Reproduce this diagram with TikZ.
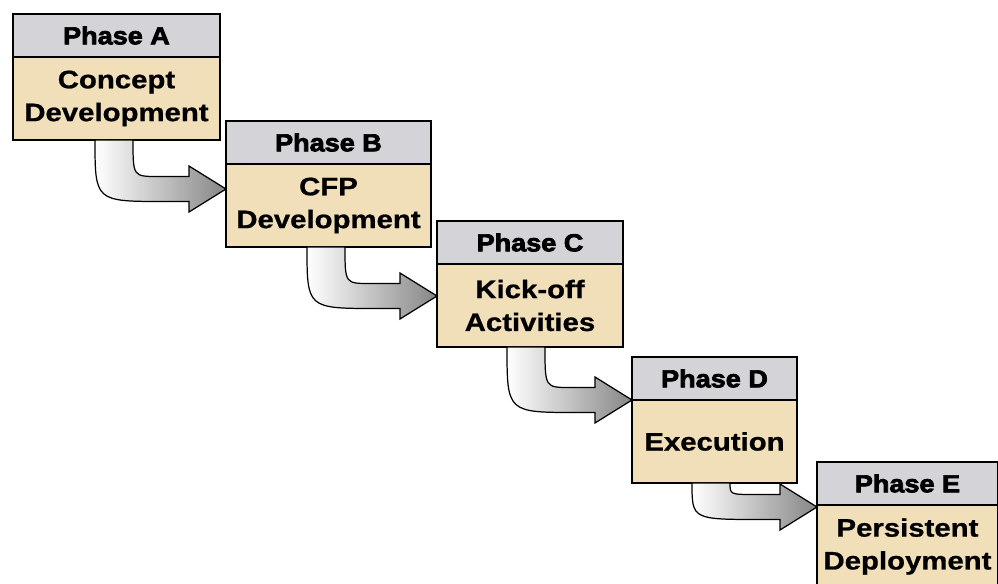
\documentclass[tikz,border=0pt]{standalone}
\usepackage{fontspec}
\setmainfont{Liberation Sans}
\newfontfamily\phasefont{Liberation Sans}[FakeStretch=1.16,BoldFeatures={FakeBold=0.8}]
\newfontfamily\headfont{Liberation Sans}[FakeStretch=1.1,BoldFeatures={FakeBold=3}]
\usetikzlibrary{positioning}
\usetikzlibrary{calc}
\definecolor{sand}{RGB}{240,223,185}
\definecolor{marble}{RGB}{212,212,216}

% bent block arrow from the bottom of one phase to the side of the next
\newcommand\phasearrow[4]{%
  \coordinate (stem) at ($(#1.south west)+(#3,0)$);
  \coordinate (tip) at ($(#2.north west)+(0,#4)$);
  \shade[flowarrow] (stem)
    .. controls ($(stem |- tip)+(0,12.5)$) .. ($(stem |- tip)+(70,12.5)$)
    -- ($(tip)+(-37,12.5)$) -- ($(tip)+(-37,23)$) -- (tip)
    -- ($(tip)+(-37,-23)$) -- ($(tip)+(-37,-12.5)$)
    -- ($(stem |- tip)+(63,-12.5)$)
    .. controls ($(stem |- tip)+(38,-12.5)$) .. ($(stem)+(38,0)$) -- cycle;
}

\begin{document}
\begin{tikzpicture}[x=0.02cm,y=-0.02cm,thick,
    header/.style={draw,line width=0.9pt,outer sep=0pt,minimum height=0.86cm,
      left color=marble,middle color=gray!4,right color=marble,
      font=\headfont\bfseries\fontsize{14}{16}\selectfont},
    phase/.style={draw,line width=0.9pt,outer sep=0pt,fill=sand,minimum height=1.66cm,
      align=center,font=\phasefont\bfseries\fontsize{14.4}{18.7}\selectfont},
    flowarrow/.style={draw,line width=0.7pt,left color=white,right color=gray!95}]
  \useasboundingbox (0,0) rectangle (998,583);

  \node (A1) [header,anchor=north west,minimum width=4.14cm] at (13,14) {Phase A};
  \node (A2) [phase,below=0pt of A1,minimum width=4.14cm] {Concept\\Development};
  \node (B1) [header,anchor=north west,minimum width=4.10cm] at (226,121) {Phase B};
  \node (B2) [phase,below=0pt of B1,minimum width=4.10cm] {CFP\\Development};
  \node (C1) [header,anchor=north west,minimum width=3.72cm] at (437,221) {Phase C};
  \node (C2) [phase,below=0pt of C1,minimum width=3.72cm] {Kick-off\\Activities};
  \node (D1) [header,anchor=north west,minimum width=3.30cm] at (632,357) {Phase D};
  \node (D2) [phase,below=0pt of D1,minimum width=3.30cm] {Execution};
  \node (E1) [header,anchor=north west,minimum width=3.62cm] at (817,462) {Phase E};
  \node (E2) [phase,below=0pt of E1,minimum width=3.62cm] {Persistent\\Deployment};

  \phasearrow{A2}{B2}{82}{25}
  \phasearrow{B2}{C2}{81}{32}
  \phasearrow{C2}{D2}{70}{0}
  \phasearrow{D2}{E2}{60}{2}
\end{tikzpicture}
\end{document}
